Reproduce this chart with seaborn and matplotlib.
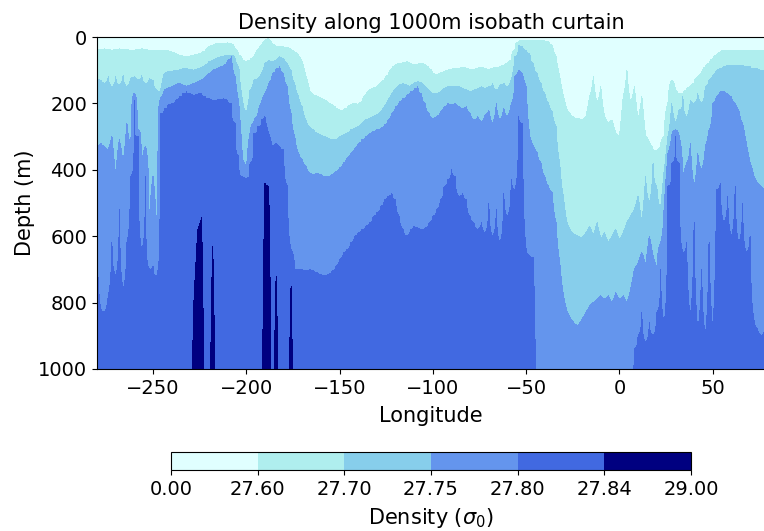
import numpy as np
import matplotlib
matplotlib.use("Agg")
import matplotlib.pyplot as plt
import seaborn as sns

# Longitude of each profile along the 1000 m isobath (2 degree spacing)
lon = np.arange(-280, 80, 2)

# Depth (m) of the sigma0 = 27.60 surface
depth_2760 = [
    38, 38, 36, 38, 40, 38, 36, 38, 38, 40,        # -280
    40, 38, 36, 38, 40, 40, 42, 40, 40, 42,        # -260
    45, 50, 55, 58, 58, 58, 55, 52, 48, 42,        # -240
    30, 25, 20, 20, 20, 18, 20, 35, 55, 70,        # -220
    75, 70, 60, 40, 25, 10, 5, 20, 30, 30,         # -200
    30, 32, 38, 45, 55, 75, 120, 165, 175, 180,    # -180
    185, 190, 200, 205, 215, 222, 220, 215, 205, 200,  # -160
    205, 195, 175, 160, 155, 150, 140, 130, 115, 95,   # -140
    85, 80, 78, 75, 80, 85, 82, 80, 85, 95,        # -120
    110, 115, 110, 105, 100, 98, 95, 95, 92, 95,   # -100
    100, 98, 95, 92, 95, 100, 95, 92, 90, 85,      # -80
    80, 70, 40, 15, 10, 10, 12, 12, 12, 12,        # -60
    12, 15, 25, 60, 120, 180, 220, 235, 245, 245,  # -40
    250, 240, 180, 120, 200, 150, 240, 260, 250, 290,  # -20
    300, 180, 100, 200, 150, 250, 180, 300, 320, 340,  # 0
    350, 330, 300, 200, 130, 160, 180, 170, 160, 150,  # 20
    140, 120, 110, 90, 80, 65, 55, 45, 40, 40,     # 40
    40, 40, 40, 40, 40, 40, 40, 40, 40, 40,        # 60
]

# Depth (m) of the sigma0 = 27.70 surface
depth_2770 = [
    125, 130, 140, 120, 150, 120, 145, 115, 150, 125,
    120, 130, 115, 140, 125, 130, 160, 165, 110, 105,
    105, 100, 100, 95, 95, 98, 100, 95, 92, 85,
    75, 70, 65, 60, 58, 55, 55, 65, 90, 190,
    230, 160, 130, 125, 110, 80, 70, 75, 70, 60,
    65, 80, 100, 140, 180, 210, 250, 270, 280, 290,
    295, 300, 305, 310, 310, 300, 295, 290, 280, 275,
    270, 260, 250, 245, 240, 235, 225, 210, 190, 170,
    155, 145, 140, 145, 150, 140, 135, 140, 150, 160,
    170, 170, 165, 155, 150, 150, 148, 150, 155, 160,
    165, 160, 155, 150, 155, 150, 140, 160, 145, 140,
    150, 130, 60, 25, 30, 40, 50, 80, 110, 140,
    170, 200, 225, 270, 380, 480, 560, 585, 595, 600,
    605, 590, 570, 600, 560, 610, 590, 620, 600, 580,
    610, 590, 560, 540, 520, 480, 560, 420, 500, 380,
    450, 520, 400, 300, 200, 260, 220, 180, 240, 190,
    200, 170, 200, 150, 130, 115, 100, 95, 90, 85,
    85, 85, 85, 85, 90, 90, 95, 95, 100, 100,
]

# Depth (m) of the sigma0 = 27.75 surface
depth_2775 = [
    330, 320, 330, 340, 300, 420, 310, 380, 260, 330,
    170, 280, 400, 330, 560, 420, 580, 185, 160, 155,
    150, 145, 140, 145, 150, 145, 140, 135, 130, 120,
    110, 100, 95, 90, 85, 70, 60, 120, 200, 370,
    415, 290, 260, 240, 200, 170, 140, 110, 95, 90,
    110, 150, 230, 300, 350, 370, 390, 410, 415, 410,
    415, 420, 420, 415, 405, 395, 380, 365, 350, 335,
    320, 310, 300, 290, 285, 280, 275, 265, 250, 230,
    210, 195, 185, 175, 165, 155, 150, 170, 200, 230,
    245, 240, 225, 210, 200, 205, 200, 210, 215, 210,
    230, 250, 240, 255, 235, 220, 260, 200, 250, 215,
    240, 200, 120, 100, 110, 150, 300, 330, 350, 380,
    420, 450, 470, 560, 680, 780, 830, 850, 865, 870,
    850, 830, 810, 800, 790, 780, 790, 780, 800, 770,
    790, 780, 800, 760, 700, 680, 650, 690, 600, 660,
    700, 620, 500, 350, 300, 280, 300, 420, 380, 320,
    450, 350, 400, 330, 280, 200, 180, 165, 165, 170,
    180, 200, 220, 260, 320, 380, 420, 440, 450, 460,
]

# Depth (m) of the sigma0 = 27.80 surface (1100 = below the 1000 m floor)
depth_2780 = [
    600, 820, 830, 780, 620, 720, 520, 760, 620, 420,
    190, 300, 640, 420, 700, 690, 720, 230, 215, 205,
    200, 190, 180, 170, 165, 170, 175, 172, 170, 180,
    185, 190, 190, 188, 185, 190, 200, 260, 360, 420,
    425, 380, 290, 270, 250, 240, 290, 330, 320, 330,
    340, 450, 640, 700, 700, 700, 705, 700, 705, 710,
    715, 720, 715, 705, 690, 670, 650, 640, 620, 600,
    590, 580, 570, 560, 540, 530, 510, 490, 480, 470,
    490, 540, 580, 600, 580, 570, 575, 580, 575, 560,
    540, 520, 490, 450, 430, 400, 420, 480, 470, 490,
    540, 560, 580, 560, 590, 500, 600, 520, 620, 470,
    540, 430, 460, 240, 260, 640, 660, 665, 1100, 1100,
    1100, 1100, 1100, 1100, 1100, 1100, 1100, 1100, 1100, 1100,
    1100, 1100, 1100, 1100, 1100, 1100, 1100, 1100, 1100, 1100,
    1100, 1100, 1100, 1100, 940, 900, 830, 920, 860, 900,
    830, 700, 860, 450, 380, 300, 380, 650, 620, 840,
    560, 880, 700, 900, 620, 880, 460, 440, 560, 480,
    600, 450, 620, 500, 650, 600, 850, 880, 900, 880,
]

# Top (m) of the densest water, sigma0 > 27.84, where it rises above 1000 m
navy_lon = [-228, -226, -224, -218, -190, -188, -184, -176]
navy_top = [790, 580, 545, 630, 440, 450, 720, 750]

levels = [0.0, 27.60, 27.70, 27.75, 27.80, 27.84, 29.0]
colors = ["lightcyan", "paleturquoise", "skyblue",
          "cornflowerblue", "royalblue", "navy"]

# Build the density section from the isopycnal depths
depth_2784 = np.full(lon.size, 2000.0)
for lo, top in zip(navy_lon, navy_top):
    depth_2784[np.searchsorted(lon, lo)] = top

surfaces = np.vstack([depth_2760, depth_2770, depth_2775,
                      depth_2780, depth_2784]).astype(float)
surfaces = np.maximum.accumulate(surfaces, axis=0)
surfaces += np.arange(5)[:, None] * 1e-3
surface_sigma = [27.60, 27.70, 27.75, 27.80, 27.84]

z = np.linspace(0, 1000, 1001)
sigma = np.empty((z.size, lon.size))
for j in range(lon.size):
    xp = np.concatenate([[-50.0], surfaces[:, j], [3000.0]])
    fp = np.concatenate([[27.50], surface_sigma, [28.0]])
    sigma[:, j] = np.interp(z, xp, fp)

sns.set_style("ticks")
plt.rcParams.update({
    "font.family": "DejaVu Sans",
    "font.size": 14,
    "axes.edgecolor": "black",
    "axes.labelcolor": "black",
    "text.color": "black",
    "xtick.color": "black",
    "ytick.color": "black",
    "xtick.direction": "out",
    "ytick.direction": "out",
    "xtick.major.size": 3.5,
    "ytick.major.size": 3.5,
    "axes.linewidth": 0.8,
})

fig = plt.figure(figsize=(7.64, 5.31), dpi=100)
ax = fig.add_axes([97 / 764, 162 / 531, 668 / 764, 332 / 531])
cax = fig.add_axes([171 / 764, 61 / 531, 520 / 764, 18 / 531])

cf = ax.contourf(lon, z, sigma, levels=levels, colors=colors)
ax.set_xlim(lon[0], lon[-1])
ax.set_ylim(1000, 0)
ax.set_yticks([0, 200, 400, 600, 800, 1000])
ax.tick_params(labelsize=14)
ax.set_xlabel("Longitude", fontsize=15, labelpad=6)
ax.set_ylabel("Depth (m)", fontsize=15, labelpad=2)
ax.set_title("Density along 1000m isobath curtain", fontsize=15)

cb = fig.colorbar(cf, cax=cax, orientation="horizontal", ticks=levels,
                  format="%.2f")
cb.set_label("Density ($\\sigma_0$)", fontsize=15, labelpad=5)
cb.ax.tick_params(labelsize=14)

fig.savefig("out.png", dpi=100)
